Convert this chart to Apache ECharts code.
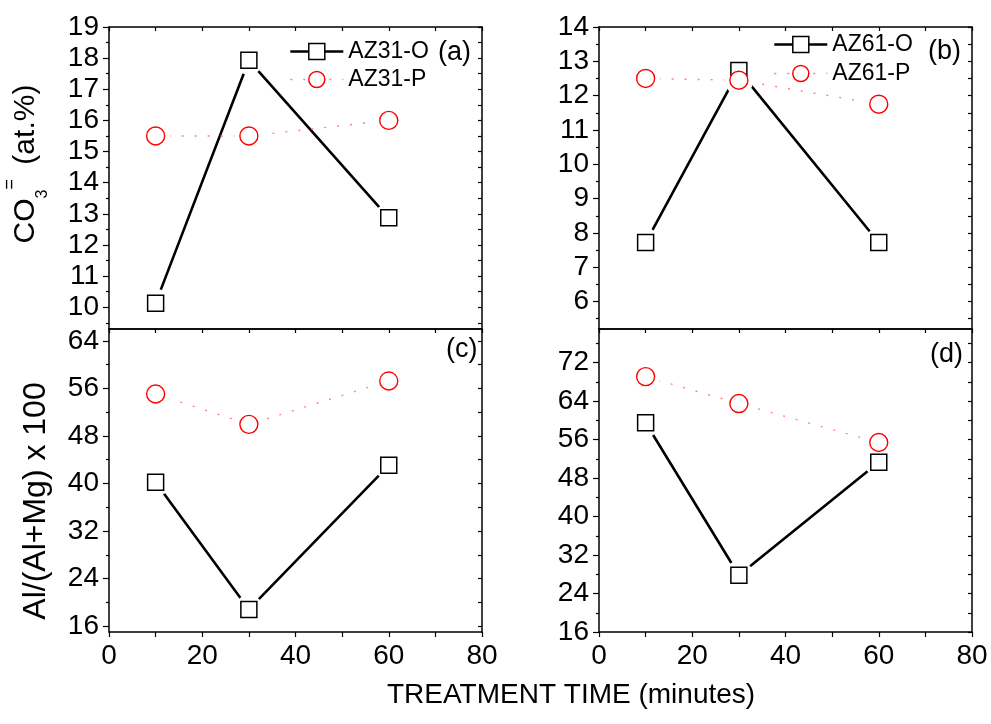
<!DOCTYPE html>
<html>
<head>
<meta charset="utf-8">
<script src="https://cdn.jsdelivr.net/npm/echarts@6/dist/echarts.min.js"></script>
<style>
  html, body { margin: 0; padding: 0; background: #fff; }
  #chart { width: 991px; height: 724px; }
</style>
</head>
<body>
<div id="chart"></div>
<script>
// Treatment times (minutes)
const times = [10, 30, 60];

// Carbonate content, CO3= (at.%)
const co3AZ31O = [10.13, 17.93, 12.87];
const co3AZ31P = [15.5, 15.5, 16.0];
const co3AZ61O = [7.72, 12.73, 7.72];
const co3AZ61P = [12.5, 12.45, 11.75];

// Al/(Al+Mg) x 100
const alAZ31O = [40.2, 18.8, 43.05];
const alAZ31P = [55.06, 49.95, 57.25];
const alAZ61O = [59.5, 27.8, 51.3];
const alAZ61P = [69.1, 63.5, 55.4];

// Tick values
const timeLabels = [0, 20, 40, 60, 80];
const timeTicks = [0, 10, 20, 30, 40, 50, 60, 70, 80];
const co3TicksA = [10, 11, 12, 13, 14, 15, 16, 17, 18, 19];
const co3MinorA = [9.5, 10.5, 11.5, 12.5, 13.5, 14.5, 15.5, 16.5, 17.5, 18.5];
const co3TicksB = [6, 7, 8, 9, 10, 11, 12, 13, 14];
const co3MinorB = [5.5, 6.5, 7.5, 8.5, 9.5, 10.5, 11.5, 12.5, 13.5];
const alTicksC = [16, 24, 32, 40, 48, 56, 64];
const alMinorC = [20, 28, 36, 44, 52, 60];
const alTicksD = [16, 24, 32, 40, 48, 56, 64, 72];
const alMinorD = [20, 28, 36, 44, 52, 60, 68, 76];

const FONT = '"Liberation Sans", Arial, Helvetica, sans-serif';
const BLACK = '#000';

const panels = [
  { grid: { left: 109, top: 27, width: 373, height: 302 }, yMin: 9.3, yMax: 19,
    major: co3TicksA, minor: co3MinorA, o: co3AZ31O, p: co3AZ31P,
    names: ['AZ31-O', 'AZ31-P'], bottomRow: false },
  { grid: { left: 599, top: 27, width: 373, height: 302 }, yMin: 5.2, yMax: 14,
    major: co3TicksB, minor: co3MinorB, o: co3AZ61O, p: co3AZ61P,
    names: ['AZ61-O', 'AZ61-P'], bottomRow: false },
  { grid: { left: 109, top: 329, width: 373, height: 303 }, yMin: 15, yMax: 66,
    major: alTicksC, minor: alMinorC, o: alAZ31O, p: alAZ31P,
    names: ['AZ31-O', 'AZ31-P'], bottomRow: true },
  { grid: { left: 599, top: 329, width: 373, height: 303 }, yMin: 16, yMax: 79,
    major: alTicksD, minor: alMinorD, o: alAZ61O, p: alAZ61P,
    names: ['AZ61-O', 'AZ61-P'], bottomRow: true }
];

const pairs = (xs, ys) => xs.map((x, i) => [x, ys[i]]);

const axisLineStyle = { color: BLACK, width: 1.5 };
const tickLineStyle = { color: BLACK, width: 1.2 };
const labelStyle = { fontSize: 28, color: BLACK, fontFamily: FONT };

const grid = [], xAxis = [], yAxis = [], series = [];

panels.forEach((p, i) => {
  grid.push(Object.assign({ containLabel: false }, p.grid));

  // bottom time axis (carries the data)
  xAxis.push({
    gridIndex: i, type: 'value', min: 0, max: 80, position: 'bottom',
    axisLine: { show: true, onZero: false, lineStyle: axisLineStyle },
    axisTick: { show: p.bottomRow, inside: false, length: 5, customValues: timeTicks, lineStyle: tickLineStyle },
    axisLabel: Object.assign({ show: p.bottomRow, customValues: timeLabels, margin: 10 }, labelStyle),
    splitLine: { show: false }
  });
  // mirrored top axis
  xAxis.push({
    gridIndex: i, type: 'value', min: 0, max: 80, position: 'top',
    axisLine: { show: true, onZero: false, lineStyle: axisLineStyle },
    axisTick: { show: true, inside: true, length: 4, customValues: timeTicks, lineStyle: tickLineStyle },
    axisLabel: { show: false },
    splitLine: { show: false }
  });

  const yMain = {
    gridIndex: i, type: 'value', min: p.yMin, max: p.yMax, position: 'left',
    axisLine: { show: true, onZero: false, lineStyle: axisLineStyle },
    axisTick: { show: true, inside: false, length: 6, customValues: p.major, lineStyle: tickLineStyle },
    axisLabel: Object.assign({ customValues: p.major, margin: 10 }, labelStyle),
    splitLine: { show: false }
  };
  if (i === 0) {
    yMain.name = '{n|CO}{sub|3}{sup|=}{n| (at.%)}';
    yMain.nameLocation = 'middle';
    yMain.nameGap = 58;
    yMain.nameTextStyle = {
      fontFamily: FONT, fontSize: 30, color: BLACK, padding: [0, 0, 0, 28],
      rich: {
        n: { fontFamily: FONT, fontSize: 30, lineHeight: 50, color: BLACK },
        sub: { fontFamily: FONT, fontSize: 16, lineHeight: 14, verticalAlign: 'bottom', color: BLACK },
        sup: { fontFamily: FONT, fontSize: 18, lineHeight: 30, verticalAlign: 'top', color: BLACK, padding: [0, 6, 0, 0] }
      }
    };
  }
  if (i === 2) {
    yMain.name = 'Al/(Al+Mg) x 100';
    yMain.nameLocation = 'middle';
    yMain.nameGap = 57;
    yMain.nameTextStyle = { fontFamily: FONT, fontSize: 32, color: BLACK, padding: [0, 41, 0, 0] };
  }
  yAxis.push(yMain);
  // minor ticks on the left
  yAxis.push({
    gridIndex: i, type: 'value', min: p.yMin, max: p.yMax, position: 'left',
    axisLine: { show: false },
    axisTick: { show: true, inside: false, length: 3, customValues: p.minor, lineStyle: tickLineStyle },
    axisLabel: { show: false },
    splitLine: { show: false }
  });
  // mirrored right axis
  yAxis.push({
    gridIndex: i, type: 'value', min: p.yMin, max: p.yMax, position: 'right',
    axisLine: { show: true, onZero: false, lineStyle: axisLineStyle },
    axisTick: { show: true, inside: true, length: 4, customValues: p.major.concat(p.minor), lineStyle: tickLineStyle },
    axisLabel: { show: false },
    splitLine: { show: false }
  });

  const xi = 2 * i, yi = 3 * i;
  const oData = pairs(times, p.o);
  const pData = pairs(times, p.p);
  const squareStyle = { color: '#fff', borderColor: BLACK, borderWidth: 1.5, opacity: 1 };
  const circleStyle = { color: '#fff', borderColor: '#ff0000', borderWidth: 1.4, opacity: 1 };

  // connecting lines
  series.push({
    type: 'line', name: p.names[0], xAxisIndex: xi, yAxisIndex: yi, data: oData,
    symbol: 'rect', symbolSize: 16, itemStyle: squareStyle,
    lineStyle: { color: BLACK, width: 2.6 }, z: 2, silent: true
  });
  series.push({
    type: 'line', name: p.names[1], xAxisIndex: xi, yAxisIndex: yi, data: pData,
    symbol: 'circle', symbolSize: 18, itemStyle: circleStyle,
    lineStyle: { color: '#ff8080', width: 1.4, type: [2, 11] }, z: 2, silent: true
  });
  // white halo leaving a gap between lines and markers
  series.push({
    type: 'scatter', xAxisIndex: xi, yAxisIndex: yi, data: oData.concat(pData),
    symbol: 'circle', symbolSize: 29, itemStyle: { color: '#fff', opacity: 1 }, z: 3, silent: true
  });
  // markers
  series.push({
    type: 'scatter', xAxisIndex: xi, yAxisIndex: yi, data: oData,
    symbol: 'rect', symbolSize: 16, itemStyle: squareStyle, z: 4, silent: true
  });
  series.push({
    type: 'scatter', xAxisIndex: xi, yAxisIndex: yi, data: pData,
    symbol: 'circle', symbolSize: 18, itemStyle: circleStyle, z: 5, silent: true
  });
});

const legendBase = {
  orient: 'vertical', itemWidth: 53, itemHeight: 20, padding: 0, selectedMode: false,
  textStyle: { fontSize: 23, color: BLACK, fontFamily: FONT },
  itemStyle: { borderWidth: 1.5 }
};

const legend = [
  Object.assign({}, legendBase, {
    left: 289, top: 40, itemGap: 5,
    data: [{ name: 'AZ31-O', lineStyle: { width: 2.6 } }, { name: 'AZ31-P', lineStyle: { width: 1.4 } }]
  }),
  Object.assign({}, legendBase, {
    left: 773, top: 33, itemGap: 6,
    data: [{ name: 'AZ61-O', lineStyle: { width: 2.6 } }, { name: 'AZ61-P', lineStyle: { width: 1.4 } }]
  })
];

const tagStyle = { fontSize: 27, fontWeight: 'normal', color: BLACK, fontFamily: FONT };
const title = [
  { text: '(a)', left: 438, top: 39, padding: 0, textStyle: tagStyle },
  { text: '(b)', left: 928, top: 38, padding: 0, textStyle: tagStyle },
  { text: '(c)', left: 446, top: 336, padding: 0, textStyle: tagStyle },
  { text: '(d)', left: 930, top: 341, padding: 0, textStyle: tagStyle },
  { text: 'TREATMENT TIME (minutes)', left: 387, top: 681, padding: 0,
    textStyle: { fontSize: 28, fontWeight: 'normal', color: BLACK, fontFamily: FONT } }
];

const chart = echarts.init(document.getElementById('chart'), null, { renderer: 'canvas' });
chart.setOption({
  backgroundColor: '#fff',
  animation: false,
  title, legend, grid, xAxis, yAxis, series
});
</script>
</body>
</html>
